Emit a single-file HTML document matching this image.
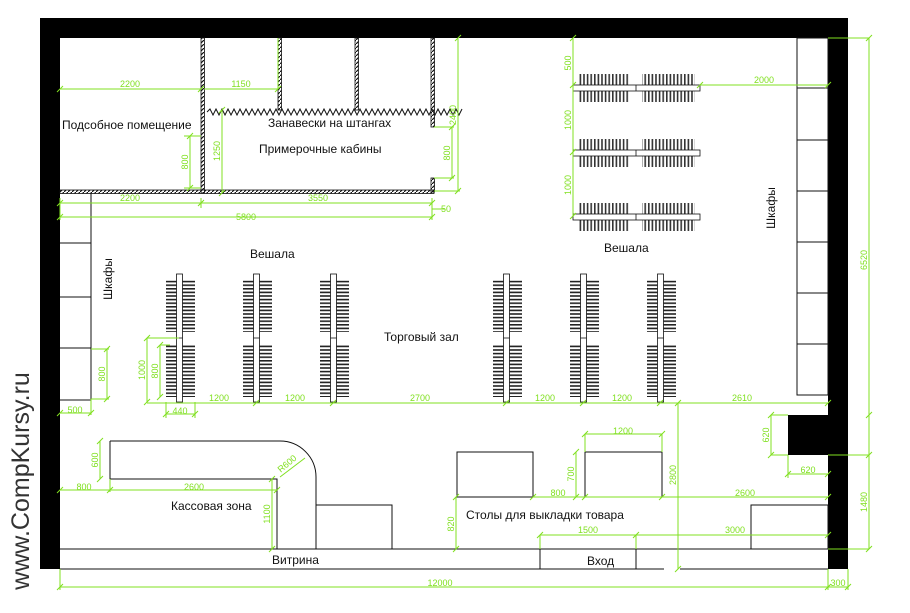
<!DOCTYPE html>
<html><head><meta charset="utf-8"><style>
html,body{margin:0;padding:0;background:#fff;width:910px;height:613px;overflow:hidden}
svg{display:block}
.t{font-family:"Liberation Sans",sans-serif;font-size:12px;fill:#111}
.d{font-family:"Liberation Sans",sans-serif;font-size:9px;fill:#80e020}
.g{stroke:#80e020;stroke-width:1;fill:none}
.k{stroke:#111;stroke-width:1;fill:none}
</style></head><body>
<svg width="910" height="613" viewBox="0 0 910 613" xmlns="http://www.w3.org/2000/svg">
<defs>
<pattern id="hs" width="4" height="3.6" patternUnits="userSpaceOnUse"><rect x="0" y="0" width="4" height="1.6" fill="#222"/></pattern>
<pattern id="vs" width="3.6" height="4" patternUnits="userSpaceOnUse"><rect x="0" y="0" width="1.6" height="4" fill="#333"/></pattern>
<pattern id="hat" width="4" height="4" patternUnits="userSpaceOnUse"><path d="M0,4 L4,0" stroke="#111" stroke-width="1.2"/></pattern>
</defs>
<rect x="40" y="18" width="808" height="20" fill="#000"/>
<rect x="40" y="18" width="20" height="551" fill="#000"/>
<rect x="828" y="18" width="20" height="551" fill="#000"/>
<rect x="788" y="415" width="40" height="40" fill="#000"/>
<g stroke="#111" stroke-width="0.8" fill="url(#hat)">
<rect x="60" y="190" width="374" height="3.5"/>
<rect x="201" y="38" width="3.5" height="155"/>
<rect x="431" y="38" width="3.5" height="89"/>
<rect x="431" y="178" width="3.5" height="14"/>
<rect x="278" y="38" width="3.5" height="72"/>
<rect x="355" y="38" width="3.5" height="72"/>
</g>
<path d="M207,112 l3,-3 3,6 3,-6 3,6 3,-6 3,6 3,-6 3,6 3,-6 3,6 3,-6 3,6 3,-6 3,6 3,-6 3,6 3,-6 3,6 3,-6 3,6 3,-6 3,6 3,-6 3,6 3,-6 3,6 3,-6 3,6 3,-6 3,6 3,-6 3,6 3,-6 3,6 3,-6 3,6 3,-6 3,6 3,-6 3,6 3,-6 3,6 3,-6 3,6 3,-6 3,6 3,-6 3,6 3,-6 3,6 3,-6 3,6 3,-6 3,6 3,-6 3,6 3,-6 3,6 3,-6 3,6 3,-6 3,6 3,-6 3,6 3,-6 3,6 3,-6 3,6 3,-6 3,6 3,-6 3,6 3,-6 3,6 3,-6 3,6 3,-6 3,6 3,-6 3,6 3,-6 3,6 3,-6 3,6 3,-6" class="k" stroke-width="0.8"/>
<g class="k">
<rect x="797" y="38" width="31" height="357"/>
<path d="M797,88H828M797,140H828M797,191H828M797,242H828M797,293H828M797,344H828"/>
<path d="M91,193V400H60M60,243H91M60,297H91M60,348H91"/>
<path d="M110,441H280A36,36 0 0 1 316,477V549"/>
<path d="M110,441V479H277V549"/>
<rect x="316" y="505" width="76" height="44"/>
<rect x="457" y="452" width="76" height="45"/>
<rect x="585" y="452" width="77" height="45"/>
<rect x="751" y="505" width="77" height="44"/>
<path d="M60,549H828M60,569H664M680,569H828"/>
<rect x="540" y="549" width="96" height="20"/>
</g>
<g id="rk">
<rect x="166" y="280" width="29" height="52" fill="url(#hs)"/>
<rect x="166" y="344" width="29" height="53" fill="url(#hs)"/>
<rect x="176.5" y="274" width="6" height="128" fill="#fff" stroke="#111" stroke-width="0.8"/>
<path d="M176.5,338H182.5" stroke="#111" stroke-width="0.8"/>
</g>
<use href="#rk" x="77"/><use href="#rk" x="154"/><use href="#rk" x="327"/><use href="#rk" x="404"/><use href="#rk" x="481"/>
<g id="tr">
<rect x="578" y="74" width="52" height="28" fill="url(#vs)"/>
<rect x="642" y="74" width="53" height="28" fill="url(#vs)"/>
<rect x="573" y="85" width="127" height="6" fill="#fff" stroke="#111" stroke-width="0.8"/>
<path d="M636,85V91" stroke="#111" stroke-width="0.8"/>
</g>
<use href="#tr" y="65"/><use href="#tr" y="129"/>
<g class="g">
<path d="M60,89H201M204,89H278M278,38V89M190,136V188M184,136H201M184,188H201M222,110V193M458,38V191M434,191H460M452,127V178M434,127H454M434,178H454"/>
<path d="M60,203H432M60,217H432M432,209H445M60,198V220M201,198V208M432,198V220"/>
<path d="M573,38V216M700,85H828M828,38H869M869,38V549M828,455H869M828,549H869"/>
<path d="M107,349V399M91,349H109M91,399H109M60,413H91M91,399V415"/>
<path d="M147,338V402M147,338H179M160,345V397M160,345H170M147,403H828M166,414H195M166,402V418M195,402V418"/>
<path d="M771,415V455M771,415H788M771,455H788M788,474H828M788,455V478"/>
<path d="M678,403V569M585,434H662M585,434V452M662,434V452M576,452V497M533,497H828M456,497V549"/>
<path d="M540,535H828M540,535V549M636,535V549M60,587H848M60,569V590M828,569V590M848,569V590"/>
<path d="M100,441V479M60,490H277M110,479V492M272,479V549M280,477L305,458"/>
</g>
<g class="g" stroke-width="1">
<path d="M57,92l6,-6M198,92l6,-6M275,92l6,-6M187,139l6,-6M187,191l6,-6M219,113l6,-6M219,196l6,-6M455,41l6,-6M455,194l6,-6M449,130l6,-6M449,181l6,-6M57,206l6,-6M198,206l6,-6M429,206l6,-6M57,220l6,-6M429,220l6,-6M570,41l6,-6M570,88l6,-6M570,155l6,-6M570,219l6,-6M697,88l6,-6M825,88l6,-6M866,41l6,-6M866,418l6,-6M866,458l6,-6M866,552l6,-6M104,352l6,-6M104,402l6,-6M57,416l6,-6M88,416l6,-6M144,341l6,-6M144,405l6,-6M157,348l6,-6M157,400l6,-6M253,406l6,-6M330,406l6,-6M503,406l6,-6M580,406l6,-6M657,406l6,-6M825,406l6,-6M163,417l6,-6M192,417l6,-6M768,418l6,-6M768,458l6,-6M785,477l6,-6M825,477l6,-6M675,406l6,-6M675,572l6,-6M582,437l6,-6M659,437l6,-6M573,455l6,-6M573,500l6,-6M530,500l6,-6M582,500l6,-6M659,500l6,-6M825,500l6,-6M453,500l6,-6M453,552l6,-6M537,538l6,-6M633,538l6,-6M825,538l6,-6M57,590l6,-6M825,590l6,-6M845,590l6,-6M97,444l6,-6M97,482l6,-6M57,493l6,-6M107,493l6,-6M274,493l6,-6M269,482l6,-6M269,552l6,-6"/>
</g>
<g class="d">
<text x="130" y="87" text-anchor="middle">2200</text>
<text x="241" y="87" text-anchor="middle">1150</text>
<text x="130" y="201" text-anchor="middle">2200</text>
<text x="318" y="201" text-anchor="middle">3550</text>
<text x="446" y="212" text-anchor="middle">50</text>
<text x="246" y="220" text-anchor="middle">5800</text>
<text x="764" y="83" text-anchor="middle">2000</text>
<text x="219" y="401" text-anchor="middle">1200</text>
<text x="295" y="401" text-anchor="middle">1200</text>
<text x="420" y="401" text-anchor="middle">2700</text>
<text x="545" y="401" text-anchor="middle">1200</text>
<text x="622" y="401" text-anchor="middle">1200</text>
<text x="742" y="401" text-anchor="middle">2610</text>
<text x="75" y="413" text-anchor="middle">500</text>
<text x="180" y="414" text-anchor="middle">440</text>
<text x="623" y="434" text-anchor="middle">1200</text>
<text x="808" y="473" text-anchor="middle">620</text>
<text x="558" y="496" text-anchor="middle">800</text>
<text x="745" y="496" text-anchor="middle">2600</text>
<text x="84" y="490" text-anchor="middle">800</text>
<text x="194" y="490" text-anchor="middle">2600</text>
<text x="588" y="533" text-anchor="middle">1500</text>
<text x="735" y="533" text-anchor="middle">3000</text>
<text x="440" y="586" text-anchor="middle">12000</text>
<text x="838" y="586" text-anchor="middle">300</text>
<text transform="translate(188,162) rotate(-90)" text-anchor="middle">800</text>
<text transform="translate(220,151) rotate(-90)" text-anchor="middle">1250</text>
<text transform="translate(456,115) rotate(-90)" text-anchor="middle">2400</text>
<text transform="translate(450,153) rotate(-90)" text-anchor="middle">800</text>
<text transform="translate(571,63) rotate(-90)" text-anchor="middle">500</text>
<text transform="translate(571,120) rotate(-90)" text-anchor="middle">1000</text>
<text transform="translate(571,185) rotate(-90)" text-anchor="middle">1000</text>
<text transform="translate(867,260) rotate(-90)" text-anchor="middle">6520</text>
<text transform="translate(867,502) rotate(-90)" text-anchor="middle">1480</text>
<text transform="translate(105,374) rotate(-90)" text-anchor="middle">800</text>
<text transform="translate(145,370) rotate(-90)" text-anchor="middle">1000</text>
<text transform="translate(158,371) rotate(-90)" text-anchor="middle">800</text>
<text transform="translate(769,435) rotate(-90)" text-anchor="middle">620</text>
<text transform="translate(676,475) rotate(-90)" text-anchor="middle">2800</text>
<text transform="translate(574,474) rotate(-90)" text-anchor="middle">700</text>
<text transform="translate(454,524) rotate(-90)" text-anchor="middle">820</text>
<text transform="translate(98,460) rotate(-90)" text-anchor="middle">600</text>
<text transform="translate(270,514) rotate(-90)" text-anchor="middle">1100</text>
<text transform="translate(289,466) rotate(-40)" text-anchor="middle">R600</text>
</g>
<g class="t">
<text x="62" y="129">Подсобное помещение</text>
<text x="268" y="127">Занавески на штангах</text>
<text x="259" y="153">Примерочные кабины</text>
<text x="250" y="258">Вешала</text>
<text x="604" y="252">Вешала</text>
<text x="384" y="341">Торговый зал</text>
<text x="171" y="510">Кассовая зона</text>
<text x="466" y="519">Столы для выкладки товара</text>
<text x="272" y="564">Витрина</text>
<text x="587" y="565">Вход</text>
<text transform="translate(112,279) rotate(-90)" text-anchor="middle">Шкафы</text>
<text transform="translate(775,208) rotate(-90)" text-anchor="middle">Шкафы</text>
</g>
<text transform="translate(29,481) rotate(-90)" text-anchor="middle" font-family="Liberation Sans, sans-serif" font-size="25" fill="#333">www.CompKursy.ru</text>
</svg>
</body></html>
